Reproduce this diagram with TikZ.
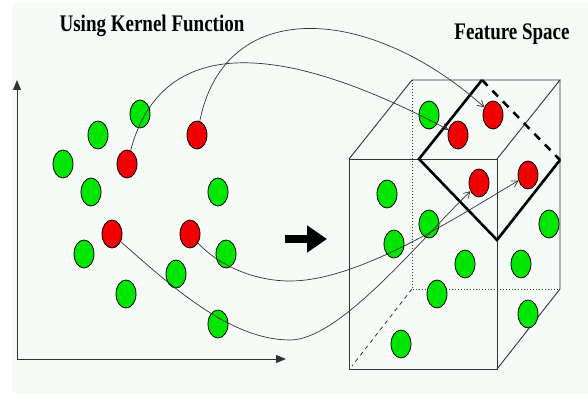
\documentclass[tikz,border=0pt]{standalone}
\usepackage{fontspec}
\usepackage{graphicx}
\setmainfont{Liberation Serif}
\usetikzlibrary{shapes.geometric,arrows.meta}
\definecolor{bgtint}{HTML}{F6FBF8}
\definecolor{ptgreen}{HTML}{00E600}
\definecolor{ptred}{HTML}{F00000}
\definecolor{linegray}{HTML}{333333}
\begin{document}
\begin{tikzpicture}[x=1pt,y=-1pt,
  dot/.style={ellipse, draw=black, line width=0.8pt, minimum width=20pt, minimum height=28pt, inner sep=0pt},
  gdot/.style={dot, fill=ptgreen},
  rdot/.style={dot, fill=ptred},
  cubeline/.style={draw=linegray, line width=0.9pt},
  hidden/.style={draw=linegray, line width=0.8pt, dash pattern=on 1pt off 2pt},
  hiddendash/.style={draw=linegray, line width=0.8pt, dash pattern=on 4pt off 4pt},
  planeline/.style={draw=black, line width=2.6pt},
  axisline/.style={draw=linegray, line width=1pt, -{Triangle[length=10pt,width=8pt]}},
  mapline/.style={draw=linegray, line width=0.7pt, -{Straight Barb[length=6pt,width=7pt]}},
  title/.style={font=\fontsize{19}{22}\selectfont\bfseries, inner sep=0pt, anchor=base}
]
\useasboundingbox (0,0) rectangle (588,393);
\fill[white] (0,0) rectangle (588,393);
\fill[bgtint] (12,3) rectangle (588,393);

% titles
\node[title] (t1) at (152,32) {\scalebox{1}[1.25]{Using Kernel Function}};
\node[title] (t2) at (512,40) {\scalebox{1}[1.25]{Feature Space}};

% axes
\coordinate (o) at (17,359);
\coordinate (ytip) at (17,80);
\coordinate (xtip) at (286,359);
\draw[axisline] (o) -- (ytip);
\draw[axisline] (o) -- (xtip);

% big arrow
\coordinate (ba) at (285,239);
\coordinate (bb) at (327,239);
\draw[line width=8pt, -{Triangle[length=20pt,width=26pt]}] (ba) -- (bb);

% cube
\draw[hidden] (412,80) -- (412,289) -- (560,289);
\draw[hiddendash] (412,289) -- (352,366);
\draw[cubeline] (349,159) rectangle (497,369);
\draw[cubeline] (349,159) -- (412,80) -- (560,80) -- (497,159);
\draw[cubeline] (560,80) -- (560,289) -- (497,369);

% separating plane
\draw[planeline] (482,80) -- (419,159) -- (497,240) -- (560,160);
\draw[planeline, dash pattern=on 8pt off 7pt] (482,80) -- (560,160);

% input space points
\node[gdot] (g1) at (140,114) {};
\node[gdot] (g2) at (98,135) {};
\node[rdot] (r1) at (197,135) {};
\node[gdot] (g3) at (63,164) {};
\node[rdot] (r2) at (127,164) {};
\node[gdot] (g4) at (91,192) {};
\node[gdot] (g5) at (218,192) {};
\node[rdot] (r3) at (112,234) {};
\node[rdot] (r4) at (190,234) {};
\node[gdot] (g6) at (84,254) {};
\node[gdot] (g7) at (226,254) {};
\node[gdot] (g8) at (176,274) {};
\node[gdot] (g9) at (126,294) {};
\node[gdot] (g10) at (218,324) {};

% feature space points
\node[gdot] (g11) at (429,115) {};
\node[rdot] (s1) at (493,115) {};
\node[rdot] (s2) at (458,135) {};
\node[rdot] (s3) at (528,175) {};
\node[rdot] (s4) at (479,183) {};
\node[gdot] (g12) at (387,194) {};
\node[gdot] (g13) at (429,224) {};
\node[gdot] (g14) at (549,224) {};
\node[gdot] (g15) at (394,244) {};
\node[gdot] (g16) at (465,264) {};
\node[gdot] (g17) at (521,264) {};
\node[gdot] (g18) at (437,294) {};
\node[gdot] (g19) at (528,314) {};
\node[gdot] (g20) at (401,344) {};

% mappings
\coordinate (m3) at (290,340);
\coordinate (m4) at (290,281);
\draw[mapline] (r2) .. controls (160,40) and (270,35) .. (s2);
\draw[mapline] (r1) .. controls (225,-5) and (370,5) .. (s1);
\draw[mapline] (r3) .. controls (170,285) and (230,340) .. (m3) .. controls (340,340) and (420,240) .. (s4);
\draw[mapline] (r4) .. controls (215,262) and (250,281) .. (m4) .. controls (360,281) and (460,215) .. (s3);
\end{tikzpicture}
\end{document}
